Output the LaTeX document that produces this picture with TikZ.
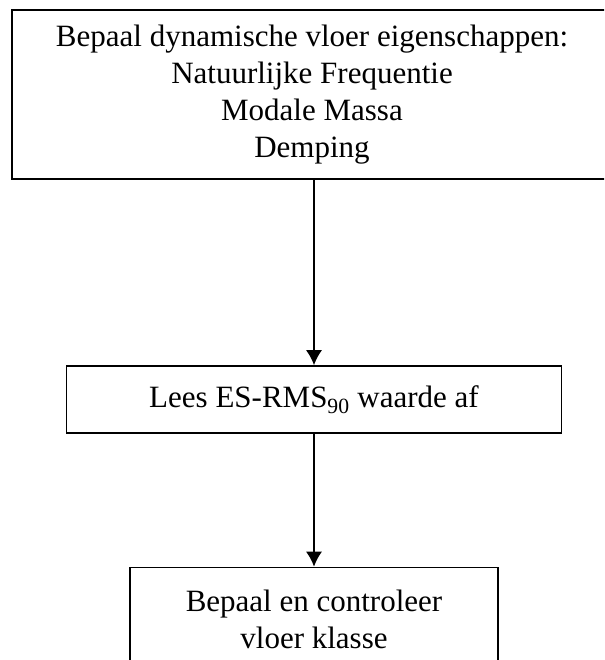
\documentclass[tikz,border=0pt]{standalone}
\usepackage{fontspec}
\setmainfont{Liberation Serif}
\usetikzlibrary{positioning}
\usetikzlibrary{arrows.meta}

\begin{document}
\begin{tikzpicture}[>={Latex[length=15pt,width=16pt]}, line width=1.6pt, node distance=220pt, on grid, block/.style={rectangle,draw,align=center,inner sep=0pt,font=\fontsize{31}{37}\selectfont}, ]
	
	\useasboundingbox (0,0) rectangle (604pt,-660pt);
	\clip (0,0) rectangle (604pt,-660pt);
	\node[block, minimum width=600pt, minimum height=169pt] (b0) at (312pt,-94.5pt) {Bepaal dynamische vloer eigenschappen:\\ Natuurlijke Frequentie\\ Modale Massa\\ Demping};
	\node[block, minimum width=495pt, minimum height=67pt] (b1) at (314pt,-399.5pt) {Lees ES-RMS\textsubscript{90} waarde af};
	\node[block, minimum width=368pt, minimum height=104pt, below = of b1] (b2) {Bepaal en controleer\\ vloer klasse};
	\draw[->] (b0.south -| b1.north) -- (b1.north);
	\draw[->] (b1) -- (b2);
	\end{tikzpicture}
\end{document}
